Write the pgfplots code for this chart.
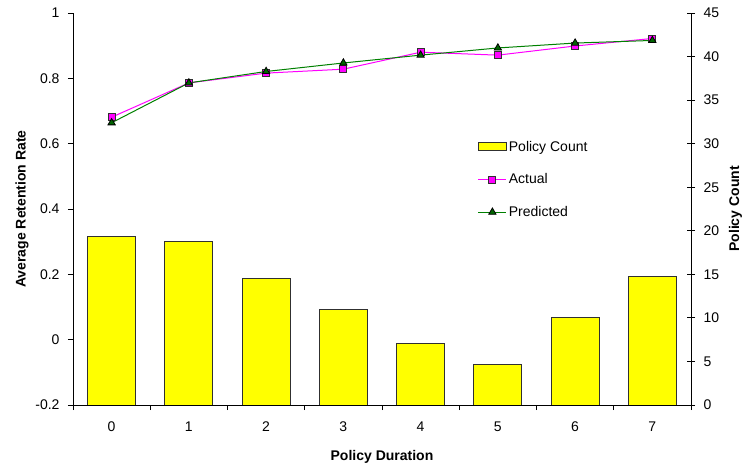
\documentclass[border=0pt]{standalone}
\usepackage{pgfplots}
\pgfplotsset{compat=1.18}
\usepackage{fontspec}
\setmainfont{Liberation Sans}
\definecolor{actualc}{HTML}{FF00FF}
\definecolor{predc}{HTML}{008000}
\definecolor{predfill}{HTML}{006400}
\definecolor{edgec}{HTML}{303030}
\definecolor{barc}{HTML}{FFFF00}
\pgfplotsset{
  mylegline/.style={legend image code/.code={\draw[mark repeat=2,mark phase=2,##1] plot coordinates {(0pt,0pt)(14pt,0pt)(28pt,0pt)};}},
  mylegbar/.style={legend image code/.code={\draw[fill=barc, draw=edgec, line width=1pt] (0pt,-4pt) rectangle (28pt,4pt);}},
  base/.style={width=618pt,height=392pt,scale only axis, at={(0,0)}, anchor=south west,
    xmin=-0.5,xmax=7.5, axis line style={-, black, line width=0.8pt},
    tick style={black, line width=0.8pt},
    /pgf/number format/assume math mode=true,
    every tick label/.append style={font=\fontsize{14}{16}\selectfont}}
}

\begin{document}
\begin{tikzpicture}[font=\fontsize{14}{16}\selectfont]
\begin{axis}[base, ymin=0,ymax=45, ytick={0,5,...,45}, axis y line*=right, hide x axis,
  tick align=center, major tick length=8pt, yticklabel style={xshift=5pt},
  ylabel={\textbf{Policy Count}},
  ylabel style={at={(axis description cs:1.072,0.5)}, anchor=center}]
\addplot[ybar, bar width=48pt, fill=barc, draw=edgec, line width=1pt]
  coordinates {(0,19.3)(1,18.8)(2,14.5)(3,11)(4,7.1)(5,4.7)(6,10)(7,14.8)};
\end{axis}
\begin{axis}[base, ymin=-0.2, ymax=1, ytick={-0.2,0,0.2,0.4,0.6,0.8,1},
  axis x line*=bottom, axis y line*=left,
  xtick={-0.5,0.5,1.5,2.5,3.5,4.5,5.5,6.5,7.5}, x tick label as interval,
  xticklabels={0,1,2,3,4,5,6,7},
  tick align=outside, major tick length=5pt,
  yticklabel style={/pgf/number format/fixed, /pgf/number format/precision=1, xshift=-5pt},
  xticklabel style={yshift=-8pt},
  xlabel={\textbf{Policy Duration}},
  xlabel style={at={(axis description cs:0.5,-0.1327)}, anchor=center},
  ylabel={\textbf{Average Retention Rate}},
  ylabel style={at={(axis description cs:-0.0825,0.5)}, anchor=center},
  legend style={at={(axis description cs:0.650,0.684)}, anchor=north west, draw=none, fill=none,
    row sep=17pt, font=\fontsize{14}{16}\selectfont},
  legend cell align=left]
\addlegendimage{mylegbar}
\addlegendentry{Policy Count}
\addplot[actualc, line width=1pt, mark=square*, mark size=3.5pt,
  mark options={fill=actualc, draw=edgec, line width=0.8pt}, mylegline]
  coordinates {(0,0.681)(1,0.786)(2,0.816)(3,0.828)(4,0.880)(5,0.871)(6,0.899)(7,0.922)};
\addlegendentry{Actual}
\addplot[predc, line width=1pt, mark=triangle*, mark size=4.2pt,
  mark options={fill=predfill, draw=black, line width=0.8pt}, mylegline]
  coordinates {(0,0.664)(1,0.786)(2,0.821)(3,0.847)(4,0.871)(5,0.893)(6,0.908)(7,0.916)};
\addlegendentry{Predicted}
\end{axis}
\pgfresetboundingbox
\path[use as bounding box] (-73pt,-64pt) rectangle (671pt,405pt);
\end{tikzpicture}
\end{document}
